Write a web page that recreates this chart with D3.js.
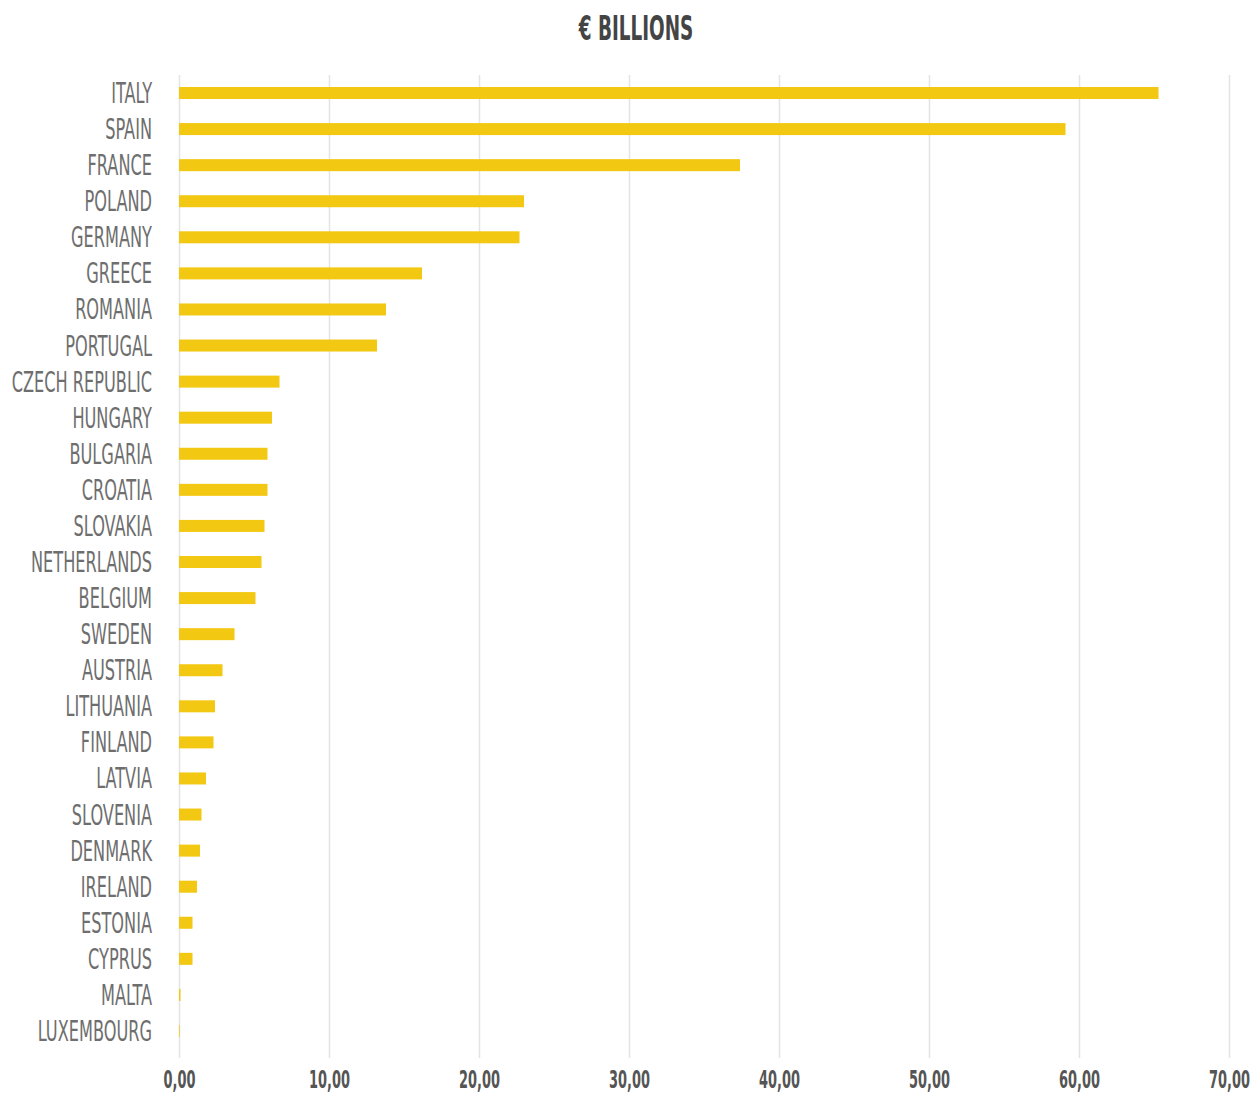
<!DOCTYPE html>
<html>
<head>
<meta charset="utf-8">
<script src="https://cdn.jsdelivr.net/npm/d3@7"></script>
<style>
  body { margin: 0; background: #fff; }
</style>
</head>
<body>
<svg id="chart"></svg>
<script>
const countries = ["ITALY", "SPAIN", "FRANCE", "POLAND", "GERMANY", "GREECE", "ROMANIA", "PORTUGAL",
    "CZECH REPUBLIC", "HUNGARY", "BULGARIA", "CROATIA", "SLOVAKIA", "NETHERLANDS", "BELGIUM",
    "SWEDEN", "AUSTRIA", "LITHUANIA", "FINLAND", "LATVIA", "SLOVENIA", "DENMARK", "IRELAND",
    "ESTONIA", "CYPRUS", "MALTA", "LUXEMBOURG"];
const values = [65.3, 59.1, 37.4, 23.0, 22.7, 16.2, 13.8, 13.2,
    6.7, 6.2, 5.9, 5.9, 5.7, 5.5, 5.1,
    3.7, 2.9, 2.4, 2.3, 1.8, 1.5, 1.4, 1.2,
    0.9, 0.9, 0.1, 0.05];
const xTicks = [0, 10, 20, 30, 40, 50, 60, 70];
const title = "€ BILLIONS";

const width = 1252;
const height = 1094;

const svg = d3.select("#chart")
    .attr("width", width)
    .attr("height", height);

const xScale = d3.scaleLinear()
    .domain([0, 70])
    .range([179, 1229]);

const yScale = d3.scalePoint()
    .domain(countries)
    .range([93, 1031]);

const locale = d3.formatLocale({ decimal: ",", thousands: ".", grouping: [3], currency: ["", "€"] });
const fmt = locale.format(".2f");

// grid + tick labels
const xAxis = svg.append("g")
    .attr("class", "x-axis")
    .attr("transform", "translate(0, 1058)")
    .call(d3.axisBottom(xScale).tickValues(xTicks).tickSize(-983).tickFormat(fmt));

xAxis.select(".domain").remove();
xAxis.selectAll(".tick line")
    .style("stroke", "#e4e4e4")
    .style("stroke-width", 1.5);
xAxis.selectAll(".tick text")
    .attr("y", 0)
    .attr("dy", 0)
    .attr("transform", "translate(0, 30) scale(0.6, 1)")
    .style("font-family", "'Liberation Sans Narrow', 'DejaVu Sans Condensed', sans-serif")
    .style("font-weight", "bold")
    .style("font-size", "24px")
    .style("fill", "#555");

// bars
svg.append("g")
    .selectAll("rect")
    .data(values)
    .enter().append("rect")
    .attr("x", xScale(0))
    .attr("y", (d, i) => yScale(countries[i]) - 6)
    .attr("width", d => xScale(d) - xScale(0))
    .attr("height", 12)
    .attr("fill", "#f3c813");

// country labels
svg.append("g")
    .selectAll("text")
    .data(countries)
    .enter().append("text")
    .attr("transform", d => `translate(152, ${yScale(d) + 10}) scale(0.62, 1)`)
    .attr("text-anchor", "end")
    .style("font-family", "'Liberation Sans Narrow', 'DejaVu Sans Condensed', sans-serif")
    .style("font-size", "29px")
    .style("fill", "#6e6e6e")
    .text(d => d);

// title
svg.append("text")
    .attr("transform", "translate(636, 40) scale(0.62, 1)")
    .attr("text-anchor", "middle")
    .style("font-family", "'Liberation Sans Narrow', 'DejaVu Sans Condensed', sans-serif")
    .style("font-weight", "bold")
    .style("font-size", "33px")
    .style("fill", "#444")
    .text(title);
</script>
</body>
</html>
